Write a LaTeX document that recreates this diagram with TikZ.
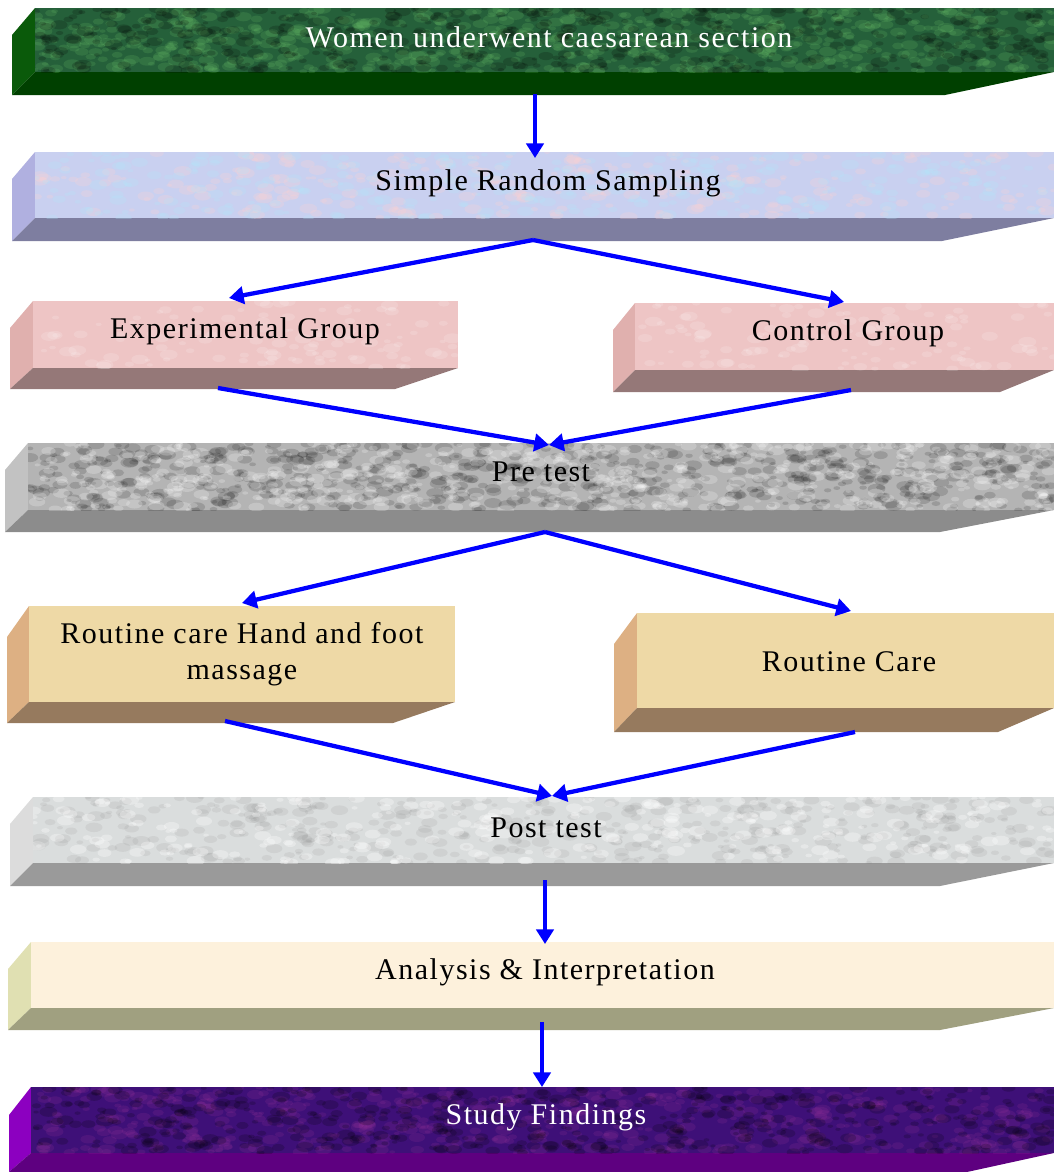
\documentclass[tikz,border=0pt]{standalone}
\usepackage{fontspec}
\setmainfont[LetterSpace=5]{Liberation Serif}
\usetikzlibrary{arrows.meta}
\definecolor{gF}{HTML}{25603A}\definecolor{gL}{HTML}{0A5A0A}\definecolor{gB}{HTML}{004000}
\definecolor{sF}{HTML}{C9D0F0}\definecolor{sL}{HTML}{B0B0E0}\definecolor{sB}{HTML}{7E7EA0}
\definecolor{eF}{HTML}{EEC5C5}\definecolor{eL}{HTML}{E0B0AE}\definecolor{eB}{HTML}{957878}
\definecolor{pF}{HTML}{B4B4B4}\definecolor{pL}{HTML}{C2C2C2}\definecolor{pB}{HTML}{8C8C8C}
\definecolor{rF}{HTML}{EED9A6}\definecolor{rL}{HTML}{DDB083}\definecolor{rB}{HTML}{967A5E}
\definecolor{qF}{HTML}{DADDDD}\definecolor{qL}{HTML}{DCDCDC}\definecolor{qB}{HTML}{9A9A9A}
\definecolor{aF}{HTML}{FDF1DC}\definecolor{aL}{HTML}{E0E0B2}\definecolor{aB}{HTML}{A0A080}
\definecolor{fF}{HTML}{3E1078}\definecolor{fL}{HTML}{8C00C0}\definecolor{fB}{HTML}{5E0080}
\definecolor{arrblue}{RGB}{0,0,255}
\newcommand{\myslab}[9]{%
 % #1 xL, #2 xF, #3 yT, #4 yB, #5 yBot, #6 xR, #7 xBR, #8 depth, #9 colour prefix
 \fill[#9L] (#1,#3+#8) -- (#2,#3) -- (#2,#4) -- (#1,#5) -- cycle;
 \fill[#9B] (#2,#4) -- (#6,#4) -- (#7,#5) -- (#1,#5) -- cycle;
 \fill[#9F] (#2,#3) rectangle (#6,#4);
}
% random mottling: #1 xF #2 yT #3 xR #4 yB #5 colour #6 opacity #7 count
\newcommand{\mymottle}[7]{%
 \begin{scope}
 \clip (#1,#2) rectangle (#3,#4);
 \foreach \k in {1,...,#7}{
   \pgfmathsetmacro{\px}{#1+rnd*(#3-#1)}
   \pgfmathsetmacro{\py}{#2+rnd*(#4-#2)}
   \pgfmathsetmacro{\pr}{1.5+rnd*3.5}
   \fill[#5, opacity=#6] (\px,\py) ellipse ({\pr*1.8} and \pr);
 }
 \end{scope}
}
\tikzset{
 lbl/.style={font=\fontsize{22.5}{27}\selectfont, align=center, inner sep=0pt},
 arr/.style={arrblue, line width=3.2pt, -{Triangle[length=11pt,width=13pt]}},
}
\begin{document}
\begin{tikzpicture}[x=0.75pt,y=-0.75pt]
\pgfmathsetseed{7}
\useasboundingbox (0,0) rectangle (1054,1172);
% boxes
\myslab{12}{35}{8}{72}{95}{1054}{945}{27}{g}
\mymottle{35}{8}{1054}{72}{green!55!black!60!white}{0.2}{700}
\mymottle{35}{8}{1054}{72}{black}{0.18}{500}
\myslab{12}{35}{152}{218}{241}{1054}{942}{27}{s}
\mymottle{35}{152}{1054}{218}{pink!70!white}{0.25}{300}
\mymottle{35}{152}{1054}{218}{cyan!30!white}{0.25}{300}
\myslab{10}{33}{301}{368}{389}{458}{395}{27}{e}
\mymottle{33}{301}{458}{368}{white}{0.15}{120}
\myslab{613}{635}{303}{370}{392}{1054}{1000}{27}{e}
\mymottle{635}{303}{1054}{370}{white}{0.15}{120}
\myslab{5}{28}{443}{510}{532}{1054}{940}{27}{p}
\mymottle{28}{443}{1054}{510}{black}{0.14}{700}
\mymottle{28}{443}{1054}{510}{white}{0.22}{600}
\myslab{7}{29}{606}{702}{723}{455}{393}{31}{r}
\myslab{614}{637}{613}{708}{732}{1054}{998}{31}{r}
\myslab{10}{33}{797}{863}{886}{1054}{940}{27}{q}
\mymottle{33}{797}{1054}{863}{gray}{0.12}{450}
\mymottle{33}{797}{1054}{863}{white}{0.3}{300}
\myslab{8}{31}{942}{1008}{1030}{1054}{940}{27}{a}
\myslab{9}{31}{1087}{1153}{1172}{1054}{967}{28}{f}
\mymottle{31}{1087}{1054}{1153}{violet!80!white}{0.18}{500}
\mymottle{31}{1087}{1054}{1153}{black}{0.18}{500}
% labels
\node[lbl, text=white] (women) at (549,37) {Women underwent caesarean section};
\node[lbl] (srs) at (548,183) {Simple Random Sampling};
\node[lbl] (exp) at (245,331) {Experimental Group};
\node[lbl] (ctl) at (848,333) {Control Group};
\node[lbl] (pre) at (541,472) {Pre test};
\node[lbl] (rchf) at (242,654) {Routine care Hand and foot\\massage};
\node[lbl] (rc) at (849,662) {Routine Care};
\node[lbl] (post) at (546,828) {Post test};
\node[lbl] (ana) at (545,972) {Analysis \& Interpretation};
\node[lbl, text=white] (find) at (546,1117) {Study Findings};
% connector ends
\coordinate (womenB) at (535,94);
\coordinate (srsT) at (535,158);
\coordinate (srsB) at (533,240);
\coordinate (expT) at (229,298);
\coordinate (ctlT) at (844,302);
\coordinate (expB) at (218,388);
\coordinate (ctlB) at (851,390);
\coordinate (preT) at (549,445);
\coordinate (preB) at (545,532);
\coordinate (rchfT) at (242,603);
\coordinate (rcT) at (851,611);
\coordinate (rchfB) at (225,721);
\coordinate (rcB) at (855,732);
\coordinate (postT) at (552,796);
\coordinate (postB) at (545,880);
\coordinate (anaT) at (545,944);
\coordinate (anaB) at (542,1022);
\coordinate (findT) at (542,1087);
% connectors
\draw[arr] (womenB) -- (srsT);
\draw[arr] (srsB) -- (expT);
\draw[arr] (srsB) -- (ctlT);
\draw[arr] (expB) -- (preT);
\draw[arr] (ctlB) -- (preT);
\draw[arr] (preB) -- (rchfT);
\draw[arr] (preB) -- (rcT);
\draw[arr] (rchfB) -- (postT);
\draw[arr] (rcB) -- (postT);
\draw[arr] (postB) -- (anaT);
\draw[arr] (anaB) -- (findT);
\end{tikzpicture}
\end{document}
